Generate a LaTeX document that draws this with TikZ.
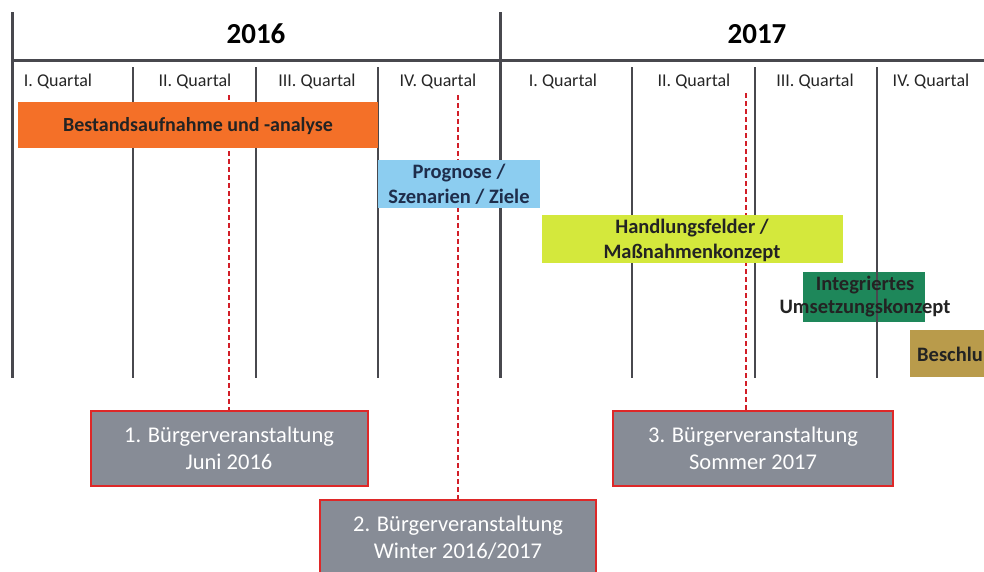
\documentclass[tikz,border=0pt]{standalone}
\usepackage{fontspec}
\setmainfont{Carlito}
\definecolor{lineC}{RGB}{72,72,78}
\definecolor{orangeC}{RGB}{244,112,40}
\definecolor{blueC}{RGB}{140,205,240}
\definecolor{limeC}{RGB}{212,232,60}
\definecolor{greenC}{RGB}{30,135,90}
\definecolor{tanC}{RGB}{185,155,75}
\definecolor{grayC}{RGB}{135,140,150}
\definecolor{redC}{RGB}{222,40,40}
\definecolor{dashC}{RGB}{210,30,40}
\definecolor{txtC}{RGB}{35,35,35}
\definecolor{navyC}{RGB}{30,45,75}
\begin{document}
\begin{tikzpicture}[x=1pt,y=-1pt,
  gridline/.style={draw=lineC, line width=2.2pt},
  yearline/.style={draw=lineC, line width=3pt},
  yearlbl/.style={font=\bfseries\fontsize{29}{32}\selectfont, text=black},
  qlbl/.style={font=\fontsize{18}{20}\selectfont, text=black!85},
  phase/.style={inner sep=0pt, align=center, font=\bfseries\fontsize{20.5}{25}\selectfont, text=txtC},
  phasebox/.style={inner sep=0pt, draw=none},
  event/.style={draw=redC, line width=2pt, fill=grayC, text=white, align=center,
     font=\fontsize{22.5}{27}\selectfont, inner sep=0pt},
  conn/.style={draw=dashC, line width=2.5pt, dash pattern=on 5pt off 3pt}
]
\useasboundingbox (0,0) rectangle (984,571);
\clip (0,0) rectangle (984,571);
\fill[white] (0,0) rectangle (984,571);

% frame lines
\coordinate (l1) at (12,12);   \coordinate (l2) at (12,378);
\coordinate (m1) at (500,12);  \coordinate (m2) at (500,378);
\coordinate (h1) at (12,60);   \coordinate (h2) at (984,60);
\draw[yearline] (l1) -- (l2);
\draw[yearline] (m1) -- (m2);
\draw[yearline] (h1) -- (h2);
\foreach \x in {133,256,378,632,755,877} \draw[gridline] (\x,67) -- (\x,378);

% years
\node[yearlbl] (y16) at (256,34) {2016};
\node[yearlbl] (y17) at (757,34) {2017};

% quarters
\node[qlbl] (q1) at (58,81) {I. Quartal};
\node[qlbl] (q2) at (195,81) {II. Quartal};
\node[qlbl] (q3) at (317,81) {III. Quartal};
\node[qlbl] (q4) at (438,81) {IV. Quartal};
\node[qlbl] (q5) at (563,81) {I. Quartal};
\node[qlbl] (q6) at (694,81) {II. Quartal};
\node[qlbl] (q7) at (815,81) {III. Quartal};
\node[qlbl] (q8) at (931,81) {IV. Quartal};

% event nodes
\node[event, minimum width=277pt, minimum height=75pt] (ev1) at (229,448.5)
   {1. Bürgerveranstaltung\\Juni 2016};
\node[event, minimum width=280pt, minimum height=75pt] (ev3) at (753,448.5)
   {3. Bürgerveranstaltung\\Sommer 2017};
\node[event, minimum width=276pt, minimum height=80pt] (ev2) at (458,540)
   {};
\node[event, draw=none, fill=none] (ev2t) at (458,538) {2. Bürgerveranstaltung\\Winter 2016/2017};

% dashed connectors (drawn beneath phase boxes)
\coordinate (d1) at (229,95);
\coordinate (d2) at (458,95);
\coordinate (d3) at (746,93);
\draw[conn] (d1) -- (ev1.north);
\draw[conn] (d2) -- (ev2.north);
\draw[conn] (d3) -- (ev3.north -| d3);

% phase boxes
\node[phasebox, fill=orangeC, minimum width=360pt, minimum height=46pt] (pa) at (198,125) {};
\node[phase, font=\bfseries\fontsize{20}{25}\selectfont] (pat) at (198,126) {Bestandsaufnahme und -analyse};
\node[phasebox, fill=blueC, minimum width=162pt, minimum height=48pt] (pb) at (459,184) {};
\node[phase, text=navyC] (pbt) at (459,184.5) {Prognose /\\Szenarien / Ziele};
\node[phasebox, fill=limeC, minimum width=301pt, minimum height=48pt] (pc) at (692.5,239) {};
\node[phase] (pct) at (692,240.5) {Handlungsfelder /\\Maßnahmenkonzept};
\node[phasebox, fill=greenC, minimum width=122pt, minimum height=50pt] (pd) at (864,297) {};
\draw[gridline] (877,272) -- (877,322);
\node[phase, font=\bfseries\fontsize{20.5}{23}\selectfont] (pdt) at (865,297) {Integriertes\\Umsetzungskonzept};
\node[phasebox, fill=tanC, minimum width=90pt, minimum height=47pt] (pe) at (955,353.5) {};
\node[phase, anchor=west] (pet) at (917,354) {Beschlu};
\end{tikzpicture}
\end{document}
